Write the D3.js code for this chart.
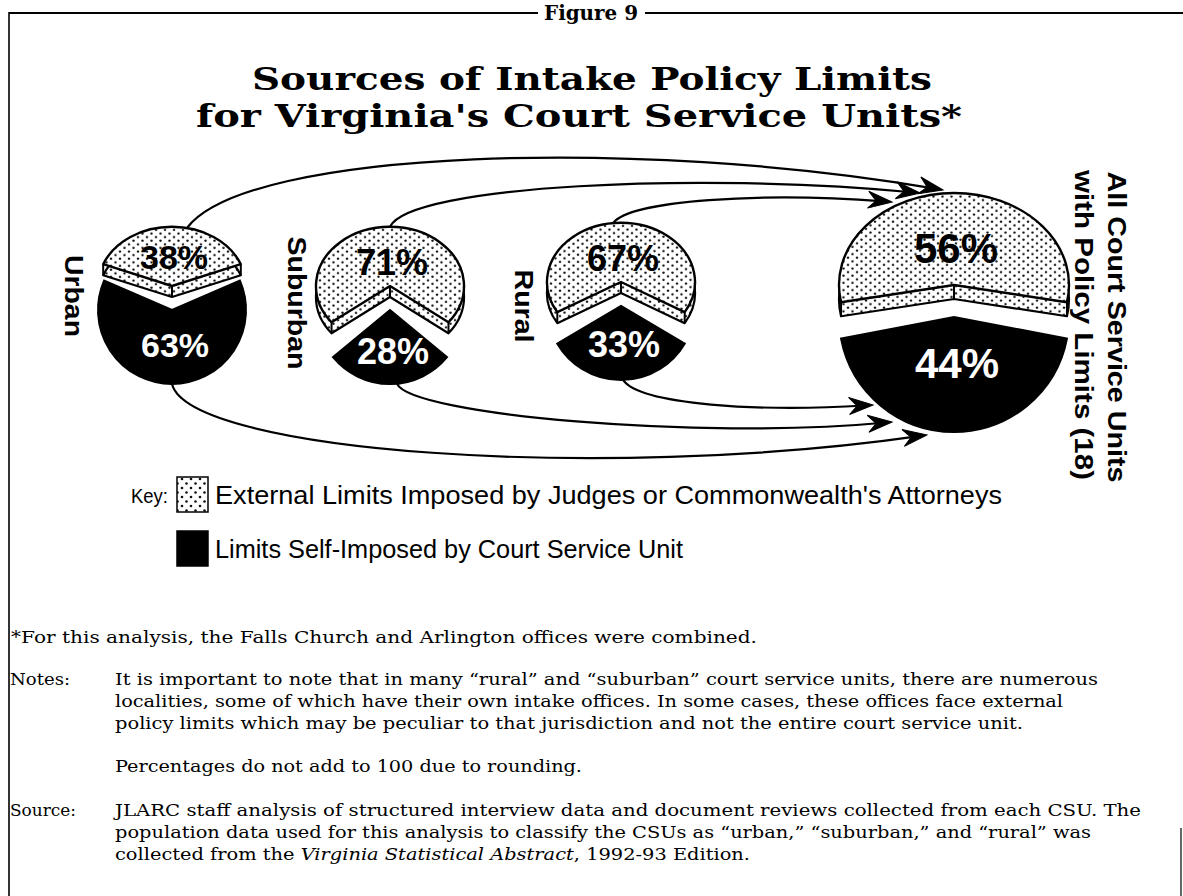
<!DOCTYPE html>
<html><head><meta charset="utf-8">
<script src="https://cdn.jsdelivr.net/npm/d3@7"></script>
<style>body{margin:0;background:#fff} svg{display:block}</style>
</head><body><svg id="c" width="1183" height="896"></svg>
<script>
// ---------- data ----------
const categories = ["Urban", "Suburban", "Rural", "All Court Service Units with Policy Limits (18)"];
const externalPct = [38, 71, 67, 56];
const selfPct = [63, 28, 33, 44];
const seriesNames = ["External Limits Imposed by Judges or Commonwealth's Attorneys", "Limits Self-Imposed by Court Service Unit"];
const figureLabel = "Figure 9";
const titleLines = ["Sources of Intake Policy Limits", "for Virginia's Court Service Units*"];
const pieLabels = [["Urban"], ["Suburban"], ["Rural"], ["All Court Service Units", "with Policy Limits (18)"]];
const keyLabel = "Key:";
const footnote = "*For this analysis, the Falls Church and Arlington offices were combined.";
const notesLines = ["It is important to note that in many \u201crural\u201d and \u201csuburban\u201d court service units, there are numerous",
  "localities, some of which have their own intake offices.  In some cases, these offices face external",
  "policy limits which may be peculiar to that jurisdiction and not the entire court service unit."];
const notes2 = "Percentages do not add to 100 due to rounding.";
const sourceLines = ["JLARC staff analysis of structured interview data and document reviews collected from each CSU.  The",
  "population data used for this analysis to classify the CSUs as \u201curban,\u201d \u201csuburban,\u201d and \u201crural\u201d was"];

// ---------- layout ----------
const svg = d3.select("#c");
const W = 1183, H = 896;
const SERIF = "'DejaVu Serif', 'Liberation Serif', serif";
const SANS = "'Liberation Sans', Arial, sans-serif";

const xPos = d3.scaleOrdinal().domain(categories).range([172, 390, 621, 954]);
const yPos = d3.scaleOrdinal().domain(categories).range([298, 298, 294, 301]);
const rad = d3.scaleOrdinal().domain(categories).range([74, 74, 74, 115]);
const gap = d3.scaleOrdinal().domain(categories).range([12, 12, 12, 16]);
const thick = d3.scaleOrdinal().domain(categories).range([11, 11, 11, 14]);
const pctSize = d3.scaleOrdinal().domain(categories).range([34, 36, 36, 42]);
const extLblF = d3.scaleOrdinal().domain(categories).range([0.5, 0.4, 0.4, 0.4]);
const blackLblF = d3.scaleOrdinal().domain(categories).range([0.47, 0.55, 0.52, 0.40]);
const KY = 0.8;

// stipple pattern
const defs = svg.append("defs");
const pat = defs.append("pattern").attr("id", "stip").attr("patternUnits", "userSpaceOnUse")
  .attr("width", 9).attr("height", 9);
pat.append("rect").attr("width", 9).attr("height", 9).attr("fill", "#fff");
pat.append("circle").attr("cx", 2).attr("cy", 2).attr("r", 1.3).attr("fill", "#111");
pat.append("circle").attr("cx", 6.5).attr("cy", 6.5).attr("r", 1.3).attr("fill", "#111");

// frame
svg.append("text").attr("x", 591).attr("y", 20).attr("text-anchor", "middle")
  .attr("font-family", SERIF).attr("font-weight", "bold").attr("font-size", 21)
  .attr("textLength", 94).attr("lengthAdjust", "spacingAndGlyphs").text(figureLabel);
svg.append("line").attr("x1", 9).attr("x2", 538).attr("y1", 13).attr("y2", 13).attr("stroke", "#000").attr("stroke-width", 2);
svg.append("line").attr("x1", 645).attr("x2", W).attr("y1", 13).attr("y2", 13).attr("stroke", "#000").attr("stroke-width", 2);
svg.append("line").attr("x1", 9).attr("x2", 9).attr("y1", 12).attr("y2", H).attr("stroke", "#000").attr("stroke-width", 1.6);
svg.append("line").attr("x1", 1181).attr("x2", 1181).attr("y1", 828).attr("y2", H).attr("stroke", "#000").attr("stroke-width", 1.2);

// title
const titleExt = [[252, 932], [196, 962]];
titleLines.forEach((t, i) => {
  svg.append("text").attr("x", (titleExt[i][0] + titleExt[i][1]) / 2).attr("y", 90 + i * 37)
    .attr("text-anchor", "middle").attr("font-family", SERIF).attr("font-weight", "bold")
    .attr("font-size", 32).attr("textLength", titleExt[i][1] - titleExt[i][0])
    .attr("lengthAdjust", "spacingAndGlyphs").text(t);
});

// ---------- connectors (drawn first, behind pies) ----------
const connectors = [
  {from: 0, p0: [15, "top"], c1: [60, 148], c2: [-300, 138], tip: [943, 190]},
  {from: 1, p0: [0, "top"], c1: [20, 185], c2: [-220, 172], tip: [920, 193]},
  {from: 2, p0: [-8, "top"], c1: [17, 200], c2: [-130, 192], tip: [892, 202]},
  {from: 0, p0: [0, "bottom"], c1: [17, 452], c2: [-327, 482], tip: [927, 435]},
  {from: 1, p0: [7, "bottom"], c1: [13, 415], c2: [-192, 440], tip: [892, 422]},
  {from: 2, p0: [2, "bottom"], c1: [17, 405], c2: [-113, 412], tip: [873, 405]}
];
const gConn = svg.append("g");
connectors.forEach(c => {
  const cat = categories[c.from];
  const cx = xPos(cat), cy = yPos(cat), r = rad(cat), g = gap(cat);
  const x0 = cx + c.p0[0];
  const y0 = c.p0[1] === "top"
    ? cy - g - KY * Math.sqrt(r * r - c.p0[0] * c.p0[0])
    : cy + g + Math.sqrt(r * r - c.p0[0] * c.p0[0]);
  const p1 = [x0 + c.c1[0], c.c1[1]];
  const p2 = [c.tip[0] + c.c2[0], c.c2[1]];
  const L = Math.hypot(c.tip[0] - p2[0], c.tip[1] - p2[1]);
  const ex = c.tip[0] - (c.tip[0] - p2[0]) * 8 / L, ey = c.tip[1] - (c.tip[1] - p2[1]) * 8 / L;
  const p = d3.path();
  p.moveTo(x0, y0);
  p.bezierCurveTo(p1[0], p1[1], p2[0], p2[1], ex, ey);
  gConn.append("path").attr("d", p.toString()).attr("fill", "none").attr("stroke", "#000").attr("stroke-width", 2.2);
  const ang = Math.atan2(c.tip[1] - p2[1], c.tip[0] - p2[0]) * 180 / Math.PI;
  gConn.append("path").attr("d", "M0,0 L-24,-9 L-16,0 L-24,8 Z")
    .attr("transform", `translate(${c.tip[0]},${c.tip[1]}) rotate(${ang})`)
    .attr("fill", "#000").attr("stroke", "#000").attr("stroke-width", 1);
});

// ---------- pies ----------
const arc = d3.arc().innerRadius(0);
categories.forEach((cat, i) => {
  const cx = xPos(cat), cy = yPos(cat), r = rad(cat), g = gap(cat), t = thick(cat);
  const ea = Math.PI * externalPct[i] / 100;
  const sa = Math.PI * selfPct[i] / 100;
  const extArc = {startAngle: -ea, endAngle: ea, outerRadius: r};
  const selfArc = {startAngle: Math.PI - sa, endAngle: Math.PI + sa, outerRadius: r};
  const gp = svg.append("g").attr("class", "pie");

  // self-imposed (black) piece
  gp.append("path").attr("d", arc(selfArc)).attr("transform", `translate(${cx},${cy + g})`)
    .attr("fill", "#000").attr("stroke", "#000").attr("stroke-width", 2);

  // external piece: extruded side
  gp.append("path").attr("d", arc(extArc)).attr("transform", `translate(${cx},${cy - g + t}) scale(1,${KY})`)
    .attr("fill", "url(#stip)").attr("stroke", "#000").attr("stroke-width", 2.2)
    .attr("vector-effect", "non-scaling-stroke").attr("stroke-linejoin", "round");
  const vx = cx, vy = cy - g;
  const corners = [[vx, vy], [cx + r * Math.sin(-ea), vy - KY * r * Math.cos(ea)], [cx + r * Math.sin(ea), vy - KY * r * Math.cos(ea)]];
  corners.forEach(pt => {
    gp.append("line").attr("x1", pt[0]).attr("x2", pt[0]).attr("y1", pt[1]).attr("y2", pt[1] + t)
      .attr("stroke", "#000").attr("stroke-width", 2);
  });
  // external piece: top face
  gp.append("path").attr("d", arc(extArc)).attr("transform", `translate(${cx},${vy}) scale(1,${KY})`)
    .attr("fill", "url(#stip)").attr("stroke", "#000").attr("stroke-width", 2.4)
    .attr("vector-effect", "non-scaling-stroke").attr("stroke-linejoin", "round");

  // percentage labels
  gp.append("text").attr("x", cx + 2).attr("y", vy - KY * r * extLblF(cat))
    .attr("dy", "0.36em").attr("text-anchor", "middle").attr("font-family", SANS)
    .attr("font-weight", "bold").attr("font-size", pctSize(cat)).attr("fill", "#000")
    .text(externalPct[i] + "%");
  gp.append("text").attr("x", cx + 3).attr("y", cy + g + r * blackLblF(cat))
    .attr("dy", "0.36em").attr("text-anchor", "middle").attr("font-family", SANS)
    .attr("font-weight", "bold").attr("font-size", pctSize(cat)).attr("fill", "#fff")
    .text(selfPct[i] + "%");
});

// vertical category labels
const vLabelPos = [[[74, 296, 82]], [[297, 303, 133]], [[524, 306, 73]], [[1117, 327, 311], [1084, 325, 310]]];
pieLabels.forEach((lines, i) => {
  lines.forEach((ln, j) => {
    const [x, y, len] = vLabelPos[i][j];
    svg.append("text").attr("transform", `translate(${x},${y}) rotate(90)`)
      .attr("text-anchor", "middle").attr("dy", "0.36em").attr("font-family", SANS)
      .attr("font-weight", "bold").attr("font-size", 26)
      .attr("textLength", len).attr("lengthAdjust", "spacingAndGlyphs").text(ln);
  });
});

// ---------- legend ----------
svg.append("text").attr("x", 131).attr("y", 503).attr("font-family", SANS).attr("font-size", 20)
  .attr("textLength", 37).attr("lengthAdjust", "spacingAndGlyphs").text(keyLabel);
const legendY = [477, 531];
const legendEnd = [1002, 683];
seriesNames.forEach((s, i) => {
  svg.append("rect").attr("x", 177).attr("y", legendY[i]).attr("width", 31).attr("height", 35)
    .attr("fill", i === 0 ? "url(#stip)" : "#000").attr("stroke", "#000").attr("stroke-width", 1.5);
  svg.append("text").attr("x", 215).attr("y", legendY[i] + 27).attr("font-family", SANS).attr("font-size", 25)
    .attr("textLength", legendEnd[i] - 215).attr("lengthAdjust", "spacingAndGlyphs").text(s);
});

// ---------- notes ----------
function fline(x, y, txt, x2) {
  return svg.append("text").attr("x", x).attr("y", y).attr("font-family", SERIF).attr("font-size", 16)
    .attr("textLength", x2 - x).attr("lengthAdjust", "spacingAndGlyphs").text(txt);
}
fline(11, 643, footnote, 757);
fline(10, 685, "Notes:", 70);
const notesEnd = [1098, 1063, 1023];
notesLines.forEach((l, i) => fline(115, 685 + i * 22, l, notesEnd[i]));
fline(115, 772, notes2, 582);
fline(10, 816, "Source:", 76);
const srcEnd = [1141, 1091];
sourceLines.forEach((l, i) => fline(115, 816 + i * 22, l, srcEnd[i]));
const s3 = svg.append("text").attr("x", 115).attr("y", 860).attr("font-family", SERIF).attr("font-size", 16)
  .attr("textLength", 750 - 115).attr("lengthAdjust", "spacingAndGlyphs");
s3.append("tspan").text("collected from the ");
s3.append("tspan").attr("font-style", "italic").text("Virginia Statistical Abstract");
s3.append("tspan").text(", 1992-93 Edition.");
</script></body></html>
